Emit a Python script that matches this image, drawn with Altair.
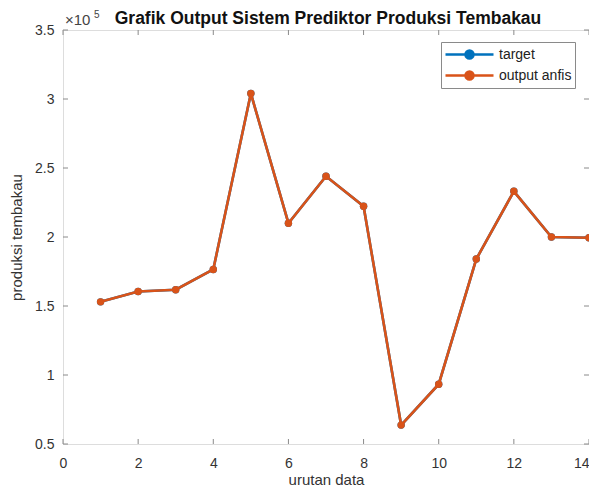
import altair as alt
import pandas as pd

# ---- data ----
x_index = list(range(1, 15))
target = [153000, 160500, 161800, 176500, 304000, 210000, 244000,
          222300, 63700, 93300, 184000, 233100, 200000, 199500]
output_anfis = [153000, 160500, 161800, 176500, 304000, 210000, 244000,
                222300, 63700, 93300, 184000, 233100, 200000, 199500]
series_names = ["target", "output anfis"]
series_colors = ["#0072BD", "#D95319"]
x_ticks = [0, 2, 4, 6, 8, 10, 12, 14]
y_ticks = [50000, 100000, 150000, 200000, 250000, 300000, 350000]
title_text = "Grafik Output Sistem Prediktor Produksi Tembakau"

FONT = "Liberation Sans"
W, H = 526, 414
AX = "#8a8a8a"
TXT = "#333333"

df = pd.DataFrame({
    "urutan": x_index * 2,
    "nilai": target + output_anfis,
    "seri": ["target"] * len(target) + ["output anfis"] * len(output_anfis),
})

xscale = alt.Scale(domain=[0, 14], nice=False, zero=False)
yscale = alt.Scale(domain=[50000, 350000], nice=False, zero=False)

xaxis = alt.Axis(values=x_ticks, ticks=False, tickSize=0, domain=False, grid=False,
                 labelFontSize=14, labelColor=TXT, labelFont=FONT, labelPadding=12,
                 labelAlign=alt.expr("datum.value >= 14 ? 'right' : 'center'"),
                 title="urutan data", titleFontSize=15, titleFont=FONT,
                 titleFontWeight="normal", titleColor=TXT, titlePadding=2,
                 labelFlush=False)
yaxis = alt.Axis(values=y_ticks, ticks=False, tickSize=0, domain=False, grid=False,
                 labelExpr="format(datum.value / 100000, '~g')",
                 labelFontSize=14, labelColor=TXT, labelFont=FONT, labelPadding=9,
                 title="produksi tembakau", titleFontSize=15, titleFont=FONT,
                 titleFontWeight="normal", titleColor=TXT, titlePadding=10,
                 labelFlush=False)

sym_path = ("M-3,0L3,0M-0.5,0A0.5,0.5,0,1,1,0.5,0A0.5,0.5,0,1,1,-0.5,0Z")

color = alt.Color(
    "seri:N",
    scale=alt.Scale(domain=series_names, range=series_colors),
    sort=series_names,
    legend=alt.Legend(
        title=None, orient="none", legendX=378, legendY=12,
        direction="vertical", strokeColor=AX, fillColor="white",
        padding=3, symbolType=sym_path, symbolSize=256, symbolStrokeWidth=2.5,
        symbolOffset=16, labelOffset=20, rowPadding=2,
        labelFont=FONT, labelFontSize=14, labelColor="#222",
        symbolOpacity=1,
    ),
)

X = alt.X("urutan:Q", scale=xscale, axis=xaxis)
Y = alt.Y("nilai:Q", scale=yscale, axis=yaxis)

layers = []
for name in series_names:
    base = alt.Chart(df).transform_filter(alt.datum.seri == name).encode(x=X, y=Y, color=color)
    layers.append(base.mark_line(strokeWidth=2.6))
    layers.append(base.mark_point(filled=True, size=55, opacity=1))

# inner ticks (MATLAB style box)
xt = pd.DataFrame({"urutan": x_ticks})
yt = pd.DataFrame({"nilai": y_ticks})
tick_bottom = alt.Chart(xt).mark_rule(color=AX, strokeWidth=1).encode(
    x=X, y=alt.value(H), y2=alt.value(H - 5))
tick_top = alt.Chart(xt).mark_rule(color=AX, strokeWidth=1).encode(
    x=X, y=alt.value(0), y2=alt.value(5))
tick_left = alt.Chart(yt).mark_rule(color=AX, strokeWidth=1).encode(
    y=Y, x=alt.value(0), x2=alt.value(5))
tick_right = alt.Chart(yt).mark_rule(color=AX, strokeWidth=1).encode(
    y=Y, x=alt.value(W), x2=alt.value(W - 5))

# exponent label
exp_base = alt.Chart(pd.DataFrame({"t": ["×10"]})).mark_text(
    font=FONT, fontSize=15, color="#444", align="left", baseline="alphabetic"
).encode(text="t:N", x=alt.value(2), y=alt.value(-5))
exp_sup = alt.Chart(pd.DataFrame({"t": ["5"]})).mark_text(
    font=FONT, fontSize=10, color="#444", align="left", baseline="alphabetic"
).encode(text="t:N", x=alt.value(31), y=alt.value(-12))

# chart title
title_mark = alt.Chart(pd.DataFrame({"t": [title_text]})).mark_text(
    font=FONT, fontSize=17.5, fontWeight="bold", color="#111",
    align="center", baseline="alphabetic"
).encode(text="t:N", x=alt.value(W / 2 + 2), y=alt.value(-6))

chart = alt.layer(
    tick_bottom, tick_top, tick_left, tick_right, *layers,
    exp_base, exp_sup, title_mark
).properties(
    width=W, height=H,
    autosize=alt.AutoSizeParams(type="none"),
    padding={"left": 55, "top": 22, "right": 0, "bottom": 46},
).configure_view(stroke=AX, strokeWidth=1).configure(background="white")

chart.save("out.html", embed_options={"renderer": "svg", "actions": False})
